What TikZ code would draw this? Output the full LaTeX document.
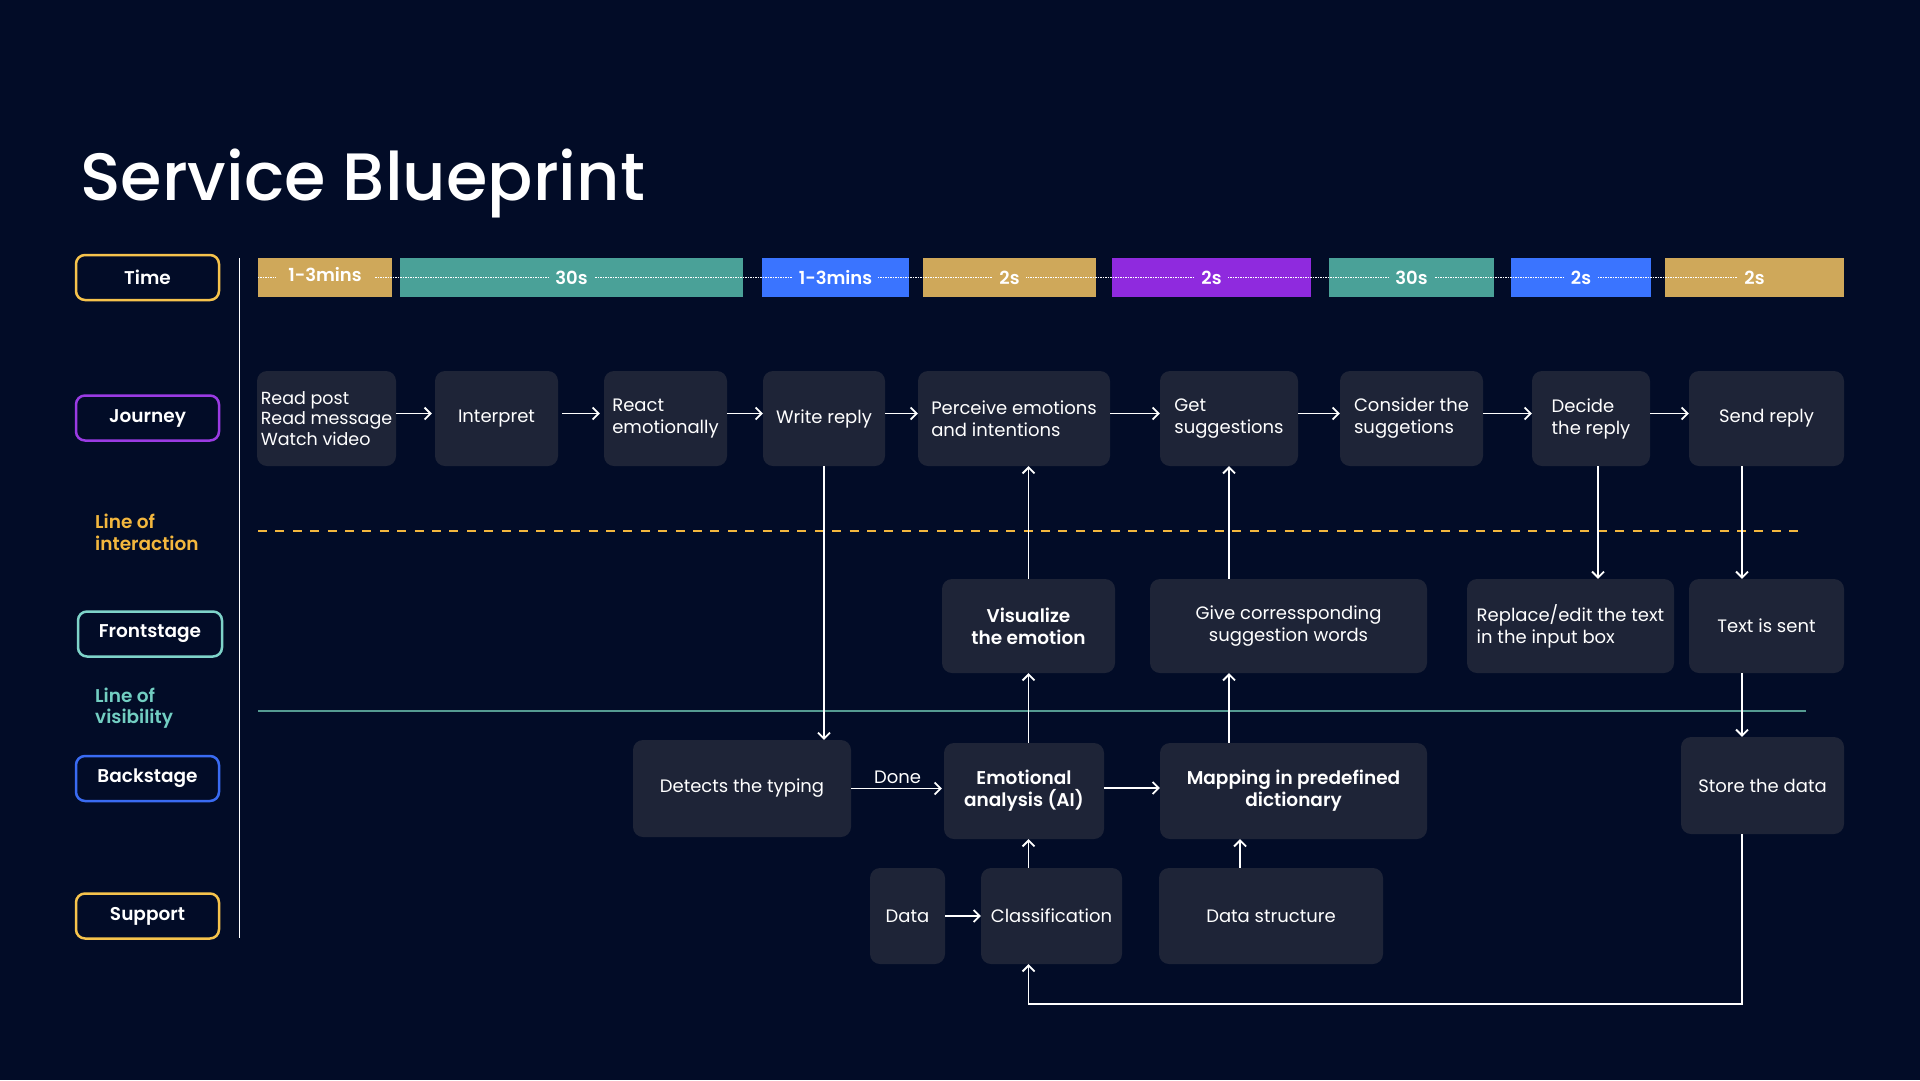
\documentclass[tikz,border=0pt]{standalone}
\usepackage{fontspec}
\setmainfont{Poppins}[BoldFont={Poppins SemiBold}]
\newfontfamily\titlefont{Poppins Medium}
\usetikzlibrary{arrows.meta, positioning}
\definecolor{bgcol}{HTML}{020C27}
\definecolor{boxfill}{HTML}{1E2437}
\definecolor{goldbar}{HTML}{CFA85A}
\definecolor{tealbar}{HTML}{4AA198}
\definecolor{bluebar}{HTML}{3A74FF}
\definecolor{purplebar}{HTML}{8F2ADE}
\definecolor{lanegold}{HTML}{F6C34C}
\definecolor{lanepurple}{HTML}{9A3BE3}
\definecolor{laneteal}{HTML}{7ED3C9}
\definecolor{laneblue}{HTML}{3A6BF2}
\definecolor{interact}{HTML}{F3B73E}
\definecolor{visible}{HTML}{72CEC2}

\begin{document}
\begin{tikzpicture}[
		x=1pt, y=-1pt,
		every node/.style={
				text=white,
				font=\fontsize{18}{22}\selectfont
			},
		stepbox/.style={fill=boxfill, rounded corners=10pt, inner sep=3pt, align=left},
		boldstep/.style={stepbox, align=center, font=\fontsize{18.5}{22}\selectfont\bfseries},
		lanebox/.style={
				draw, line width=2.5pt, rounded corners=9pt,
				minimum width=143pt, minimum height=45pt,
				font=\fontsize{18.5}{22}\selectfont\bfseries
			},
		bar/.style={minimum height=39pt, inner sep=0pt},
		barlbl/.style={inner xsep=6pt, inner ysep=1pt, font=\fontsize{18}{22}\selectfont\bfseries},
		arr/.style={-{Straight Barb[length=6pt, width=12pt]}, line width=1.8pt, white},
	]
	\fill[bgcol] (0, 0) rectangle (1920, 1080);
	\useasboundingbox (0, 0) rectangle (1920, 1080);

	\node[anchor=base west, inner sep=0pt, font=\titlefont\fontsize{67}{70}\selectfont] (title) at (80, 200) {Service Blueprint};

	% lanes on the left
	\node[lanebox, draw=lanegold] (time) at (147.5, 277.5) {Time};
	\node[lanebox, draw=lanepurple] (journey) at (147.5, 418) {Journey};
	\node[lanebox, draw=laneteal, minimum width=144pt] (front) at (150, 634) {Frontstage};
	\node[lanebox, draw=laneblue] (back) at (147.5, 778.5) {Backstage};
	\node[lanebox, draw=lanegold] (support) at (147.5, 916) {Support};

	\node[anchor=west, inner sep=0pt, align=left, text=interact, font=\fontsize{18.5}{21.5}\selectfont\bfseries] (loi) at (95, 532.5) {Line of\\interaction};
	\node[anchor=west, inner sep=0pt, align=left, text=visible, font=\fontsize{18.5}{21.5}\selectfont\bfseries] (lov) at (95, 708) {Line of\\visibility};

	\draw[white, line width=1.5pt] (239.5, 258) -- (239.5, 938);
	\draw[interact, line width=1.6pt, dash pattern=on 9pt off 8.4pt] (258, 531) -- (1806, 531);
	\draw[visible!75!black, line width=1.4pt] (258, 711) -- (1806, 711);

	% time bar
	\node[bar, fill=goldbar, minimum width=134pt] (t1) at (325, 277.5) {};
	\node[bar, fill=tealbar, minimum width=343pt] (t2) at (571.5, 277.5) {};
	\node[bar, fill=bluebar, minimum width=147pt] (t3) at (835.5, 277.5) {};
	\node[bar, fill=goldbar, minimum width=173pt] (t4) at (1009.5, 277.5) {};
	\node[bar, fill=purplebar, minimum width=199pt] (t5) at (1211.5, 277.5) {};
	\node[bar, fill=tealbar, minimum width=165pt] (t6) at (1411.5, 277.5) {};
	\node[bar, fill=bluebar, minimum width=140pt] (t7) at (1581, 277.5) {};
	\node[bar, fill=goldbar, minimum width=179pt] (t8) at (1754.5, 277.5) {};
	\draw[white, line width=1.5pt, dash pattern=on 1.2pt off 1.3pt] (t1.west) -- (t8.center);
	\node[barlbl, fill=goldbar, inner xsep=12pt, yshift=3pt] at (t1) {1-3mins};
	\node[barlbl, fill=tealbar] at (t2) {30s};
	\node[barlbl, fill=bluebar] at (t3) {1-3mins};
	\node[barlbl, fill=goldbar] at (t4) {2s};
	\node[barlbl, fill=purplebar] at (t5) {2s};
	\node[barlbl, fill=tealbar] at (t6) {30s};
	\node[barlbl, fill=bluebar] at (t7) {2s};
	\node[barlbl, fill=goldbar] at (t8) {2s};

	% journey
	\node[stepbox, minimum width=139pt, minimum height=95pt, font=\fontsize{17.5}{20.5}\selectfont] (read) at (326.5, 418.5) {Read post\\Read message\\Watch video};
	\node[stepbox, minimum width=123pt, minimum height=95pt] (interp) at (496.5, 418.5) {Interpret};
	\node[stepbox, minimum width=123pt, minimum height=95pt] (react) at (665.5, 418.5) {React\\emotionally};
	\node[stepbox, minimum width=122pt, minimum height=95pt] (write) at (824, 418.5) {Write reply};
	\node[stepbox, minimum width=192pt, minimum height=95pt] (perceive) at (1014, 418.5) {Perceive emotions\\and intentions};
	\node[stepbox, minimum width=138pt, minimum height=95pt] (get) at (1229, 418.5) {Get\\suggestions};
	\node[stepbox, minimum width=143pt, minimum height=95pt] (consider) at (1411.5, 418.5) {Consider the\\suggetions};
	\node[stepbox, minimum width=118pt, minimum height=95pt] (decide) at (1591, 418.5) {Decide\\the reply};
	\node[stepbox, minimum width=155pt, minimum height=95pt] (send) at (1766.5, 418.5) {Send reply};

	% frontstage
	\node[boldstep, minimum width=173pt, minimum height=94pt] (visual) at (1028.5, 626) {Visualize\\the emotion};
	\node[stepbox, align=center, minimum width=277pt, minimum height=94pt] (give) at (1288.5, 626) {Give corressponding\\suggestion words};
	\node[stepbox, minimum width=207pt, minimum height=94pt] (replace) at (1570.5, 626) {Replace/edit the text\\in the input box};
	\node[stepbox, minimum width=155pt, minimum height=94pt] (sent) at (1766.5, 626) {Text is sent};

	% backstage
	\node[stepbox, minimum width=218pt, minimum height=97pt] (detect) at (742, 788.5) {Detects the typing};
	\node[boldstep, minimum width=160pt, minimum height=96pt] (emo) at (1024, 791) {Emotional\\analysis (AI)};
	\node[boldstep, minimum width=267pt, minimum height=96pt] (mapping) at (1293.5, 791) {Mapping in predefined\\dictionary};
	\node[stepbox, minimum width=163pt, minimum height=97pt] (store) at (1762.5, 785.5) {Store the data};

	% support
	\node[stepbox, minimum width=75pt, minimum height=96pt] (data) at (907.5, 916) {Data};
	\node[stepbox, minimum width=141pt, minimum height=96pt] (classif) at (1051.5, 916) {Classification};
	\node[stepbox, minimum width=224pt, minimum height=96pt] (dstruct) at (1271, 916) {Data structure};

	% journey flow
	\draw[arr, shorten >=3pt] ([yshift=5pt]read.east) -- ([yshift=5pt]interp.west);
	\draw[arr, shorten <=4pt, shorten >=4pt] ([yshift=5pt]interp.east) -- ([yshift=5pt]react.west);
	\draw[arr] ([yshift=5pt]react.east) -- ([yshift=5pt]write.west);
	\draw[arr] ([yshift=5pt]write.east) -- ([yshift=5pt]perceive.west);
	\draw[arr] ([yshift=5pt]perceive.east) -- ([yshift=5pt]get.west);
	\draw[arr] ([yshift=5pt]get.east) -- ([yshift=5pt]consider.west);
	\draw[arr] ([yshift=5pt]consider.east) -- ([yshift=5pt]decide.west);
	\draw[arr] ([yshift=5pt]decide.east) -- ([yshift=5pt]send.west);

	% down and up between the rows
	\draw[arr] (write.south) -- (write.south |- detect.north);
	\draw[arr] (visual.north) -- (visual.north |- perceive.south);
	\draw[arr] (visual.south |- emo.north) -- (visual.south);
	\draw[arr] (visual.south |- classif.north) -- (visual.south |- emo.south);
	\draw[arr] (get.south |- give.north) -- (get.south);
	\draw[arr] (get.south |- mapping.north) -- (get.south |- give.south);
	\draw[arr] ([xshift=-31pt]dstruct.north) -- ([xshift=-31pt]dstruct.north |- mapping.south);
	\draw[arr] ([xshift=7pt]decide.south) -- ([xshift=7pt]decide.south |- replace.north);
	\draw[arr] ([xshift=-24.5pt]send.south) -- ([xshift=-24.5pt]send.south |- sent.north);
	\draw[arr] ([xshift=-24.5pt]send.south |- sent.south) -- ([xshift=-24.5pt]send.south |- store.north);

	% backstage and support flow
	\draw[arr, shorten >=2pt] (detect.east) -- (emo.west |- detect.east) node[midway, above=4pt, inner sep=0pt] {Done};
	\draw[arr] ([yshift=3pt]emo.east) -- ([yshift=3pt]mapping.west);
	\draw[arr] (data.east) -- (classif.west);
	\draw[arr] ([xshift=-20.5pt]store.south) -- ++(0, 170) -| (visual.south |- classif.south);

\end{tikzpicture}
\end{document}
